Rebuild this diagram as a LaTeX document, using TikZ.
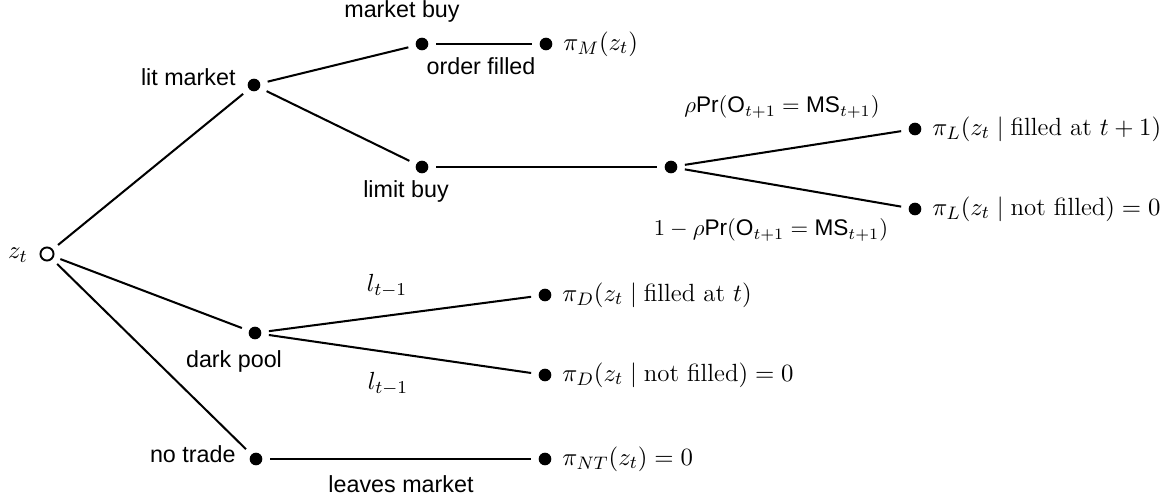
\documentclass[tikz,border=0pt]{standalone}
\usepackage{fontspec}
\newfontfamily\hv{Liberation Sans}
\tikzset{
  dot/.style={circle,fill=black,inner sep=0pt,minimum size=5.6pt,outer sep=3.4pt},
  rootdot/.style={circle,draw=black,line width=0.85pt,inner sep=0pt,minimum size=5.8pt,outer sep=3.4pt},
  edge/.style={line width=0.9pt},
  lab/.style={font=\hv\fontsize{10.3}{12}\selectfont,inner sep=0pt},
  mlab/.style={font=\fontsize{11}{13}\selectfont,inner sep=0pt},
  plab/.style={font=\fontsize{10}{12}\selectfont,inner sep=0pt},
  leaf/.style={mlab,anchor=west,xshift=7.5pt}
}
\begin{document}
\begin{tikzpicture}[x=0.442pt,y=-0.442pt]
\useasboundingbox (0,0) rectangle (1169,498);
% dots
\node[rootdot] (R) at (47,254) {};
\node[dot] (LM) at (254,85) {};
\node[dot] (MB) at (422,44) {};
\node[dot] (PM) at (546,44) {};
\node[dot] (LB) at (422,167) {};
\node[dot] (MID) at (671,167) {};
\node[dot] (FU) at (915,129) {};
\node[dot] (FN) at (915,209) {};
\node[dot] (DP) at (255,333) {};
\node[dot] (DF) at (545,295) {};
\node[dot] (DN) at (545,375) {};
\node[dot] (NT) at (256,459) {};
\node[dot] (PNT) at (545,459) {};
% edges
\draw[edge] (R) -- (LM);
\draw[edge] (R) -- (DP);
\draw[edge] (R) -- (NT);
\draw[edge] (LM) -- (MB);
\draw[edge] (LM) -- (LB);
\draw[edge] (MB) -- (PM);
\draw[edge] (LB) -- (MID);
\draw[edge] (MID) -- (FU);
\draw[edge] (MID) -- (FN);
\draw[edge] (DP) -- (DF);
\draw[edge] (DP) -- (DN);
\draw[edge] (NT) -- (PNT);
% labels
\node[mlab] (zt) at (18,255) {$z_t$};
\node[lab,anchor=base east] (tLM) at (236,86) {lit market};
\node[lab,anchor=base] (tMB) at (402,18) {market buy};
\node[lab,anchor=base] (tOF) at (481,75) {order filled};
\node[lab,anchor=base] (tLB) at (406,198) {limit buy};
\node[lab,anchor=base] (tDP) at (234,368) {dark pool};
\node[lab,anchor=base east] (tNT) at (236,463) {no trade};
\node[lab,anchor=base] (tLV) at (401,493) {leaves market};
\node[plab] (pU) at (782,107) {$\rho\mbox{\hv Pr}(\mbox{\hv O}_{t+1} = \mbox{\hv MS}_{t+1})$};
\node[plab] (pD) at (771,230) {$1-\rho\mbox{\hv Pr}(\mbox{\hv O}_{t+1} = \mbox{\hv MS}_{t+1})$};
\node[mlab] (l1) at (387,286) {$l_{t-1}$};
\node[mlab] (l2) at (388,384) {$l_{t-1}$};
% payoffs
\node[leaf] (oPM) at (PM.center) {$\pi_M(z_t)$};
\node[leaf] (oFU) at (FU.center) {$\pi_L(z_t\mid\mbox{filled at }t+1)$};
\node[leaf] (oFN) at (FN.center) {$\pi_L(z_t\mid\mbox{not filled})=0$};
\node[leaf] (oDF) at (DF.center) {$\pi_D(z_t\mid\mbox{filled at }t)$};
\node[leaf] (oDN) at (DN.center) {$\pi_D(z_t\mid\mbox{not filled})=0$};
\node[leaf] (oNT) at (PNT.center) {$\pi_{NT}(z_t)=0$};
\end{tikzpicture}
\end{document}
